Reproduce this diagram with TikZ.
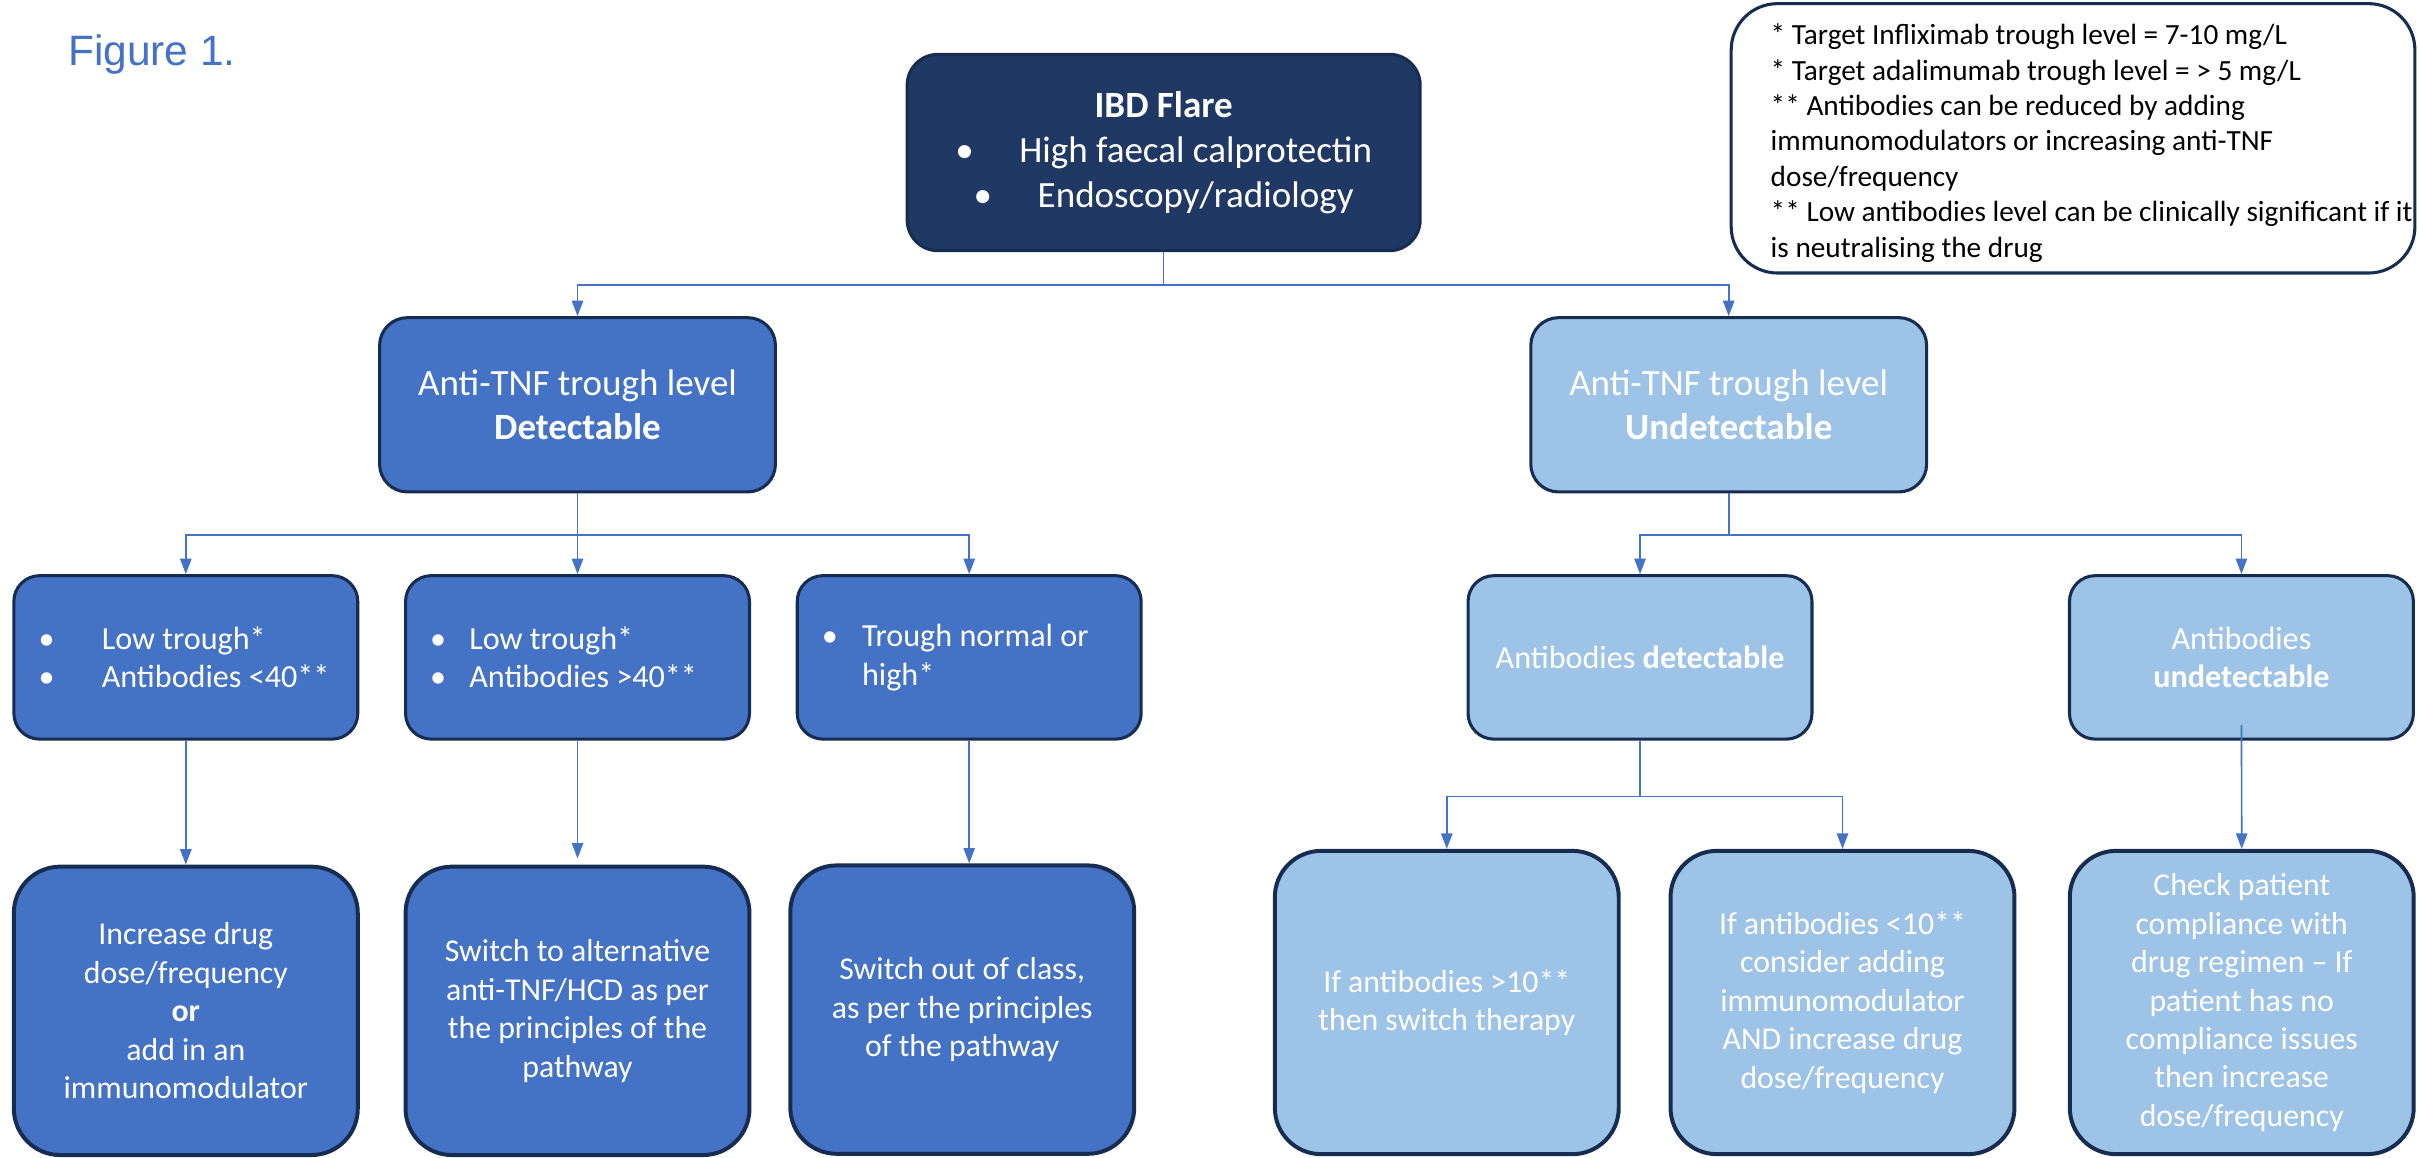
\documentclass[tikz,border=0pt]{standalone}
\usepackage{fontspec}
\setmainfont{Carlito}
\newfontfamily\arialfont{Liberation Sans}
\usepackage{tikz}
\usetikzlibrary{calc}
\usetikzlibrary{arrows.meta}

\definecolor{navy}{HTML}{203864}
\definecolor{midblue}{HTML}{4472C4}
\definecolor{lightblue}{HTML}{9DC3E6}
\definecolor{edgeblue}{HTML}{172C51}

\newcommand{\blt}[1]{\makebox[#1][l]{•}}

\begin{document}
\begin{tikzpicture}[x=0.03cm, y=-0.03cm]
            \tikzstyle{box} = [draw=edgeblue, line width=1.7pt, text=white, align=center, inner sep=0pt]
            \tikzstyle{topbox} = [box, fill=navy, minimum width=9.98cm, minimum height=3.82cm, rounded corners=0.6cm, font=\fontsize{20.5}{24.8}\selectfont]
            \tikzstyle{levelbox} = [box, minimum width=7.7cm, minimum height=3.39cm, rounded corners=0.54cm, font=\fontsize{20.5}{24.8}\selectfont]
            \tikzstyle{smallbox} = [box, minimum width=6.69cm, minimum height=3.18cm, rounded corners=0.5cm, font=\fontsize{17.8}{21.3}\selectfont]
            \tikzstyle{listbox} = [smallbox, align=flush left, text width=5.73cm, inner xsep=0.48cm]
            \tikzstyle{tallbox} = [box, line width=2.2pt, minimum width=6.69cm, minimum height=5.61cm, rounded corners=0.9cm, font=\fontsize{17.6}{21.3}\selectfont]
            \tikzstyle{conn} = [draw=midblue, line width=0.9pt]
            \tikzstyle{arr} = [conn, -{Triangle[length=0.3cm, width=0.22cm]}]
            \useasboundingbox (0,0) rectangle (1568,750.3);

            \node (fig) [anchor=base west, inner sep=0pt, text=midblue, font=\arialfont\fontsize{23.5}{28}\selectfont] at (44,42.6) {Figure 1.};

            % footnote box
            \node (note) [draw=edgeblue, line width=1.7pt, fill=white, rounded corners=0.9cm, minimum width=13.3cm, minimum height=5.24cm] at (1344.3,89.7) {};
            \node (notetext) [anchor=west, align=flush left, inner sep=0pt, font=\fontsize{16.2}{19.6}\selectfont] at ($(note.west)+(26.4,3)$) {* Target Infliximab trough level = 7-10 mg/L\\
                * Target adalimumab trough level = > 5 mg/L\\
                ** Antibodies can be reduced by adding\\
                immunomodulators or increasing anti-TNF\\
                dose/frequency\\
                ** Low antibodies level can be clinically significant if it\\
                is neutralising the drug};

            \node (ibd) [topbox] at (754.6,98.9) {\textbf{IBD Flare}\\
                \blt{1.73em}High faecal calprotectin\\
                \blt{1.73em}Endoscopy/radiology};

            \node (det) [levelbox, fill=midblue] at (374.5,262.5) {Anti-TNF trough level\\\textbf{Detectable}};
            \node (undet) [levelbox, fill=lightblue] at (1121,262.5) {Anti-TNF trough level\\\textbf{Undetectable}};

            \node (a) [listbox, fill=midblue] at (120.5,426.3) {\blt{1.23cm}Low trough*\\\blt{1.23cm}Antibodies <40**};
            \node (b) [listbox, fill=midblue] at (374.5,426.3) {\blt{0.76cm}Low trough*\\\blt{0.76cm}Antibodies >40**};
            \node (c) [listbox, fill=midblue] at (628.5,426.3) {\blt{0.78cm}Trough normal or\\\hspace*{0.78cm}high*};
            \node (d) [smallbox, fill=lightblue] at (1063.5,426.3) {Antibodies \textbf{detectable}};
            \node (e) [smallbox, fill=lightblue] at (1453.5,426.3) {Antibodies\\\textbf{undetectable}};

            \node (a2) [tallbox, fill=midblue] at (120.5,655.5) {Increase drug\\dose/frequency\\\textbf{or}\\add in an\\immunomodulator};
            \node (b2) [tallbox, fill=midblue] at (374.5,655.5) {Switch to alternative\\anti-TNF/HCD as per\\the principles of the\\pathway};
            \node (c2) [tallbox, fill=midblue] at (624,654.7) {Switch out of class,\\as per the principles\\of the pathway};
            \node (d2) [tallbox, fill=lightblue, minimum height=5.9cm] at (938.2,650.1) {If antibodies >10**\\then switch therapy};
            \node (e2) [tallbox, fill=lightblue, minimum height=5.9cm] at (1194.8,650.1) {If antibodies <10**\\consider adding\\immunomodulator\\AND increase drug\\dose/frequency};
            \node (f2) [tallbox, fill=lightblue, minimum height=5.9cm] at (1453.7,650.1) {Check patient\\compliance with\\drug regimen – If\\patient has no\\compliance issues\\then increase\\dose/frequency};

            \draw[arr] (ibd.south) -- ++(0,21.4) -| (det.north);
            \draw[arr] (ibd.south) -- ++(0,21.4) -| (undet.north);

            \draw[arr] (det.south) -- ++(0,27) -| (a.north);
            \draw[arr] (det.south) -- (b.north);
            \draw[arr] (det.south) -- ++(0,27) -| (c.north);
            \draw[arr] (undet.south) -- ++(0,27) -| (d.north);
            \draw[arr] (undet.south) -- ++(0,27) -| (e.north);

            \draw[arr] (a.south) -- (a2.north);
            \draw[arr, shorten >=0.12cm] (b.south) -- (b2.north);
            \draw[arr] (c.south) -- (c.south |- c2.north);
            \draw[arr] (d.south) -- ++(0,36.3) -| (d2.north);
            \draw[arr] (d.south) -- ++(0,36.3) -| (e2.north);
            \draw[arr] ($(e.south)+(0,-10)$) -- (f2.north);
        \end{tikzpicture}
\end{document}
